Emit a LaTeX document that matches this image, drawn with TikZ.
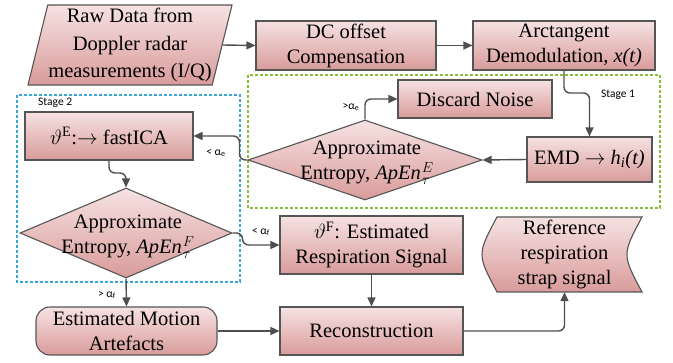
\documentclass[tikz,border=0pt]{standalone}
\usepackage{fontspec}
\setmainfont{Liberation Serif}
\newfontfamily\serifface{Liberation Serif}
\newfontfamily\labfont{Carlito}
\usetikzlibrary{shapes.geometric,arrows.meta,calc}
\definecolor{bord}{HTML}{555555}
\definecolor{arr}{HTML}{4F4F4F}
\definecolor{boxtop}{HTML}{F6E2E2}
\definecolor{boxbot}{HTML}{D99B9B}
\definecolor{stageblue}{HTML}{3AA8D8}
\definecolor{stagegreen}{HTML}{8DBB3C}
\newcommand\mainsz{\serifface\fontsize{20.5}{25}\selectfont}
\newcommand\labsz{\labfont\fontsize{11.5}{13}\selectfont}
\begin{document}
\begin{tikzpicture}[x=1pt,y=-1pt,
  fillbox/.style={draw=bord, line width=1.1pt, top color=boxtop, bottom color=boxbot},
  box/.style={fillbox, rectangle, align=center, font=\mainsz, inner sep=0pt},
  txt/.style={align=center, font=\mainsz, inner sep=0pt},
  lab/.style={font=\labsz, inner sep=0pt, text=black},
  conn/.style={draw=arr, line width=1.4pt, -{Triangle[length=9pt,width=8pt]}, rounded corners=6pt},
  stagebox/.style={dashed, dash pattern=on 3pt off 2pt, line width=1.2pt}
]
\useasboundingbox (0,0) rectangle (673,363);

% stage frames
\draw[stagebox, draw=stagegreen] (248,75) rectangle (660,208);
\draw[stagebox, draw=stageblue] (17,95) rectangle (240,282);

% top row
\node[fillbox, trapezium, trapezium left angle=75, trapezium right angle=105,
      trapezium stretches body, minimum width=204pt, minimum height=80pt,
      inner sep=0pt, align=center, font=\serifface\fontsize{20.5}{27.5}\selectfont] (raw) at (130,45)
      {Raw Data from\\Doppler radar\\measurements (I/Q)};
\node[box, minimum width=180pt, minimum height=49pt] (dc) at (346,45.5) {DC offset\\Compensation};
\node[box, minimum width=182pt, minimum height=49pt] (arc) at (564,45.5) {Arctangent\\Demodulation, \textit{x(t)}};

% stage 1
\node[box, minimum width=154pt, minimum height=38pt] (disc) at (475,99) {Discard Noise};
\node[box, minimum width=125pt, minimum height=45pt] (emd) at (589.5,159.5) {EMD $\rightarrow$ \textit{h\textsubscript{i}(t)}};
\node[fillbox, diamond, minimum width=234pt, minimum height=80pt, inner sep=0pt] (dE) at (365,160) {};
\node[txt] (dEt) at (367,163) {Approximate\\Entropy, \textit{ApEn}\kern1pt$^{E}_{\tau}$};
\node[lab] (stg1) at (618,95) {Stage 1};

% stage 2
\node[box, minimum width=168pt, minimum height=48pt] (ica) at (109,136) {$\vartheta^{\mathrm{E}}$:$\rightarrow$ fastICA};
\node[fillbox, diamond, minimum width=212pt, minimum height=90pt, inner sep=0pt] (dF) at (126,233) {};
\node[txt] (dFt) at (128,237) {Approximate\\Entropy, \textit{ApEn}\kern1pt$^{F}_{\tau}$};
\node[lab, anchor=west] (stg2) at (38,103) {Stage 2};

% bottom rows
\node[box, minimum width=183pt, minimum height=58pt] (resp) at (371.5,245) {$\vartheta^{\mathrm{F}}$: Estimated\\Respiration Signal};
\node[box, minimum width=183pt, minimum height=48pt] (rec) at (371.5,331) {Reconstruction};
\node[box, rounded corners=14pt, minimum width=181pt, minimum height=48pt] (ema) at (126.5,331) {Estimated Motion\\Artefacts};

% stored data shape
\node[minimum width=155pt, minimum height=75pt, inner sep=0pt] (ref) at (564.5,254.5) {};
\path[fillbox] (497,217) -- (642,217) .. controls (622,254.5) .. (642,292) -- (497,292) .. controls (477,254.5) .. (497,217) -- cycle;
\node[txt] (reft) at (ref.center) {Reference\\respiration\\strap signal};

% connectors
\draw[conn] (raw.east) -- (dc.west);
\draw[conn] (dc.east) -- (arc.west);
\draw[conn] (arc.south) -- (arc.south |- 0,93) -| (emd.north);
\draw[conn] (emd.west) -- (dE.east);
\draw[conn] (dE.north) |- (disc.west);
\draw[conn] (dE.west) -- ++(-8,0) |- (ica.east);
\draw[conn] (ica.south) -- (ica.south |- 0,173) -| (dF.north);
\draw[conn] (dF.east) -- ++(10,0) |- (resp.west);
\draw[conn] (dF.south) -- (ema.north);
\draw[conn] (ema.east) -- (rec.west);
\draw[conn] (resp.south) -- (rec.north);
\draw[conn] (rec.east) -| (ref.south);

% connector labels
\node[lab] (l1) at (351,107) {>α\textsubscript{e}};
\node[lab] (l2) at (216,153) {< α\textsubscript{e}};
\node[lab] (l3) at (261,232) {< α\textsubscript{f}};
\node[lab] (l4) at (107,295) {> α\textsubscript{f}};
\end{tikzpicture}
\end{document}
